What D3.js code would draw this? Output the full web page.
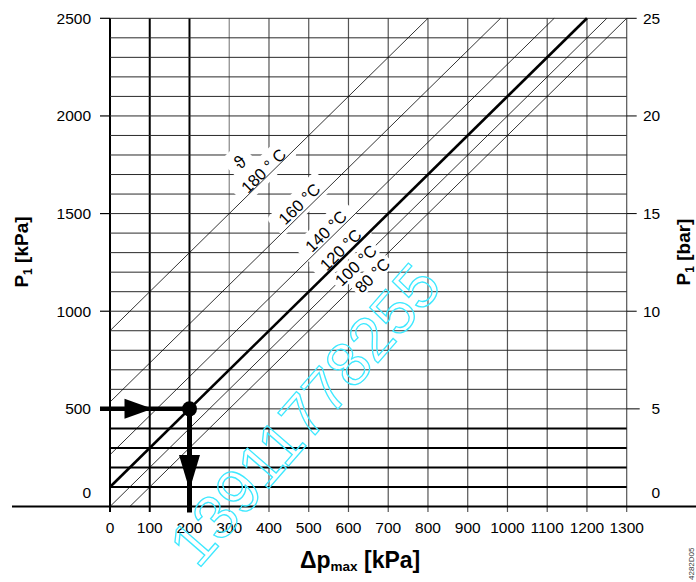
<!DOCTYPE html>
<html>
<head>
<meta charset="utf-8">
<script src="https://cdn.jsdelivr.net/npm/d3@7"></script>
<style>
  body { margin: 0; background: #fff; }
  svg text { font-family: "Liberation Sans", Arial, sans-serif; }
</style>
</head>
<body>
<div id="chart"></div>
<script>
// axis values
let dpTicks = d3.range(0, 1301, 100);          // delta p max [kPa]
let kpaTicks = [0, 500, 1000, 1500, 2000, 2500]; // P1 [kPa]
let barTicks = [0, 5, 10, 15, 20, 25];           // P1 [bar]
let gridRows = d3.range(100, 2501, 100);
let heavyRows = [100, 200, 300, 400];
let heavyCols = [0, 100, 200];

// temperature lines, P1 = 2 * dp + offset
let temps = ["180", "160", "140", "120", "100", "80"];
let offsets = [900, 535, 265, 100, 0, -100];
let slope = 2;
let mainTemp = "120";

// where the temperature names sit (dp, P1)
let labelText = ["180 ° C", "160 °C", "140 °C", "120 °C", "100 °C", "80 °C"];
let labelDp = [386, 476, 543, 580, 618, 660];
let labelP = [1720, 1550, 1410, 1315, 1235, 1184];
let cutsLine = [false, false, false, false, true, true];
let thetaAt = [327, 1763];

// worked example
let readDp = 200;
let readP = 500;

let width = 696, height = 582;

let svg = d3.select("#chart").append("svg")
    .attr("width", width)
    .attr("height", height);

let x = d3.scaleLinear().domain([0, 1300]).range([110, 626.7]);
let y = d3.scaleLinear().domain([0, 2500]).range([506.5, 18.3]);

// vertical grid
svg.append("g").selectAll("line")
    .data(dpTicks)
    .enter().append("line")
    .attr("x1", d => x(d)).attr("x2", d => x(d))
    .attr("y1", y(2500)).attr("y2", y(0) + 5.5)
    .attr("stroke", d => heavyCols.includes(d) ? "#000" : (d == 300 ? "#888" : "#555"))
    .attr("stroke-width", d => heavyCols.includes(d) ? 2 : 1.2);

// horizontal grid
svg.append("g").selectAll("line")
    .data(gridRows)
    .enter().append("line")
    .attr("x1", x(0)).attr("x2", x(1300))
    .attr("y1", d => y(d)).attr("y2", d => y(d))
    .attr("stroke", d => heavyRows.includes(d) ? "#000" : "#2a2a2a")
    .attr("stroke-width", d => heavyRows.includes(d) ? 2 : 1);

// tick marks on both sides
svg.append("g").selectAll("line")
    .data(kpaTicks.filter(d => d > 0))
    .enter().append("line")
    .attr("x1", x(0) - 10).attr("x2", x(0))
    .attr("y1", d => y(d)).attr("y2", d => y(d))
    .attr("stroke", "#000").attr("stroke-width", 1.2);

svg.append("g").selectAll("line")
    .data(barTicks.filter(d => d > 0))
    .enter().append("line")
    .attr("x1", x(1300)).attr("x2", d => x(1300) + (d == 5 ? 13 : 10))
    .attr("y1", d => y(d * 100)).attr("y2", d => y(d * 100))
    .attr("stroke", "#000").attr("stroke-width", 1);

// baseline
svg.append("line")
    .attr("x1", 12).attr("x2", width)
    .attr("y1", y(0)).attr("y2", y(0))
    .attr("stroke", "#000").attr("stroke-width", 2);

let labels = temps.map((t, i) => ({
    t: t, text: labelText[i], dp: labelDp[i], p: labelP[i], cut: cutsLine[i]
}));

let angle = -44.5;
let labelSize = 16.5;

let labelG = svg.append("g");

// white halo behind the names, breaks the grid
function addBoxes(g, list, padX, padY) {
    list.forEach(function (d) {
        let tmp = g.append("text")
            .attr("font-size", labelSize)
            .text(d.text);
        let bb = tmp.node().getBBox();
        tmp.remove();
        g.append("rect")
            .attr("x", -bb.width / 2 - padX)
            .attr("y", -6.5 - padY)
            .attr("width", bb.width + padX * 2)
            .attr("height", 13 + padY * 2)
            .attr("rx", 5)
            .attr("fill", "#fff")
            .attr("transform", "translate(" + x(d.dp) + "," + y(d.p) + ") rotate(" + angle + ")");
    });
}

addBoxes(labelG, labels.filter(d => !d.cut), 9, 6);
labelG.append("rect")
    .attr("x", -13).attr("y", -15).attr("width", 26).attr("height", 30)
    .attr("rx", 6).attr("fill", "#fff")
    .attr("transform", "translate(" + x(thetaAt[0]) + "," + y(thetaAt[1]) + ") rotate(" + angle + ")");

// temperature lines clipped to the chart box
function ends(off) {
    let a = off >= 0 ? [0, off] : [-off / slope, 0];
    let dpTop = (2500 - off) / slope;
    let b = dpTop <= 1300 ? [dpTop, 2500] : [1300, slope * 1300 + off];
    return [a, b];
}

svg.append("g").selectAll("line")
    .data(temps.map((t, i) => ({ t: t, e: ends(offsets[i]) })))
    .enter().append("line")
    .attr("x1", d => x(d.e[0][0])).attr("y1", d => y(d.e[0][1]))
    .attr("x2", d => x(d.e[1][0])).attr("y2", d => y(d.e[1][1]))
    .attr("stroke", "#000")
    .attr("stroke-width", d => d.t == mainTemp ? 2.6 : 0.8);

let labelTop = svg.append("g");
addBoxes(labelTop, labels.filter(d => d.cut), 3, 2);

labelTop.selectAll("text.temp")
    .data(labels)
    .enter().append("text")
    .attr("class", "temp")
    .attr("font-size", labelSize)
    .attr("text-anchor", "middle")
    .attr("dominant-baseline", "central")
    .attr("transform", d => "translate(" + x(d.dp) + "," + y(d.p) + ") rotate(" + angle + ")")
    .text(d => d.text);

labelTop.append("text")
    .attr("font-size", 18)
    .attr("text-anchor", "middle")
    .attr("dominant-baseline", "central")
    .attr("transform", "translate(" + x(thetaAt[0]) + "," + y(thetaAt[1]) + ") rotate(" + angle + ")")
    .text("ϑ");

// reading arrows
let px = x(readDp), py = y(readP);
svg.append("line")
    .attr("x1", x(0) - 10).attr("x2", px)
    .attr("y1", py).attr("y2", py)
    .attr("stroke", "#000").attr("stroke-width", 4.5);
svg.append("path")
    .attr("d", "M" + (px - 37) + "," + py + " l-28,-10 l0,20 z")
    .attr("fill", "#000");
svg.append("line")
    .attr("x1", px).attr("x2", px)
    .attr("y1", py).attr("y2", y(0) + 6)
    .attr("stroke", "#000").attr("stroke-width", 5);
svg.append("path")
    .attr("d", "M" + px + "," + (y(0) - 16.5) + " l-10.5,-35 l21,0 z")
    .attr("fill", "#000");
svg.append("circle")
    .attr("cx", px).attr("cy", py).attr("r", 7.5)
    .attr("fill", "#000");

// tick labels
svg.append("g").selectAll("text")
    .data(kpaTicks)
    .enter().append("text")
    .attr("x", x(0) - 19)
    .attr("y", d => y(d))
    .attr("dy", d => d == 0 ? -14 : 0)
    .attr("font-size", 15.5)
    .attr("text-anchor", "end")
    .attr("dominant-baseline", "central")
    .text(d => d);

svg.append("g").selectAll("text")
    .data(barTicks)
    .enter().append("text")
    .attr("x", x(1300) + 33.5)
    .attr("y", d => y(d * 100))
    .attr("dy", d => d == 0 ? -14 : 0)
    .attr("font-size", 15.5)
    .attr("text-anchor", "end")
    .attr("dominant-baseline", "central")
    .text(d => d);

svg.append("g").selectAll("text")
    .data(dpTicks)
    .enter().append("text")
    .attr("x", d => x(d))
    .attr("y", y(0) + 20.5)
    .attr("font-size", 15.5)
    .attr("text-anchor", "middle")
    .attr("dominant-baseline", "central")
    .text(d => d);

// axis titles
function sideTitle(tx, unit) {
    let t = svg.append("text")
        .attr("transform", "translate(" + tx + ",252) rotate(-90)")
        .attr("text-anchor", "middle")
        .attr("font-size", 19)
        .attr("font-weight", "bold");
    t.append("tspan").text("P");
    t.append("tspan").attr("font-size", 12).attr("dy", 4).text("1");
    t.append("tspan").attr("dy", -4).text(" " + unit);
}
sideTitle(28, "[kPa]");
sideTitle(690, "[bar]");

let xt = svg.append("text")
    .attr("x", 300).attr("y", 568)
    .attr("font-size", 23)
    .attr("font-weight", "bold");
xt.append("tspan").text("Δp");
xt.append("tspan").attr("font-size", 13.5).attr("dy", 3).text("max");
xt.append("tspan").attr("dy", -3).text(" [kPa]");

// drawing number
svg.append("text")
    .attr("transform", "translate(694,580) rotate(-90)")
    .attr("font-size", 8)
    .attr("fill", "#333")
    .text("4282D05");

// watermark
svg.append("text")
    .attr("transform", "translate(198,570) rotate(-49)")
    .attr("font-size", 62)
    .attr("fill", "none")
    .attr("stroke", "#3de8ff")
    .attr("stroke-width", 1.3)
    .text("13911778255");
</script>
</body>
</html>
